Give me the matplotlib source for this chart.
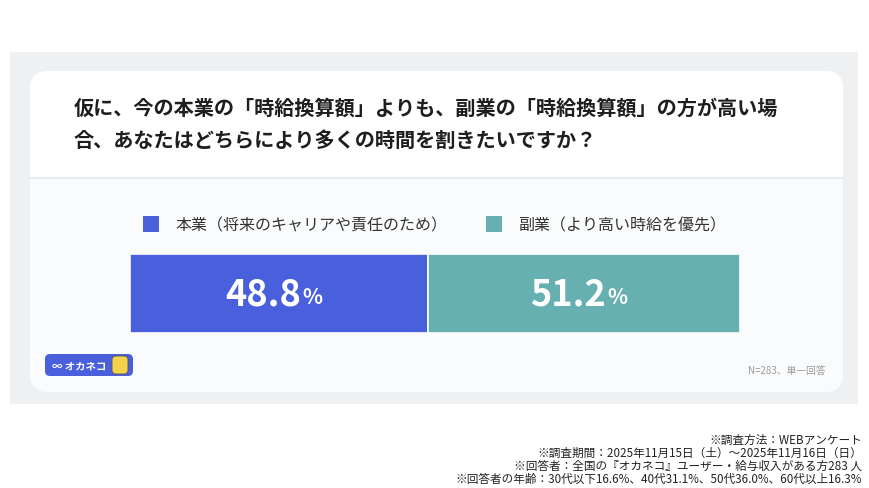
import matplotlib
matplotlib.use("Agg")
import matplotlib.pyplot as plt
from matplotlib.patches import FancyBboxPatch, Rectangle

plt.rcParams['font.family'] = ['Noto Sans CJK JP', 'DejaVu Sans']

title_lines = ["仮に、今の本業の「時給換算額」よりも、副業の「時給換算額」の方が高い場",
               "合、あなたはどちらにより多くの時間を割きたいですか？"]
categories = ["本業（将来のキャリアや責任のため）", "副業（より高い時給を優先）"]
shares = [48.8, 51.2]
colors = ["#4a5fdb", "#66b0b1"]
sample_note = "N=283、単一回答"
footnotes = ["※調査方法：WEBアンケート",
             "※調査期間：2025年11月15日（土）～2025年11月16日（日）",
             "※回答者：全国の『オカネコ』ユーザー・給与収入がある方283 人",
             "※回答者の年齢：30代以下16.6%、40代31.1%、50代36.0%、60代以上16.3%"]

W, H = 870, 489
fig = plt.figure(figsize=(W / 100, H / 100), dpi=100)
fig.patch.set_facecolor("white")

# background layer in pixel coordinates
bg = fig.add_axes([0, 0, 1, 1])
bg.set_xlim(0, W)
bg.set_ylim(H, 0)
bg.axis("off")

bg.add_patch(Rectangle((10, 53), 848, 352, facecolor="#eef0f2", edgecolor="none"))
bg.add_patch(FancyBboxPatch((30, 72), 813, 321, boxstyle="round,pad=0,rounding_size=18",
                            facecolor="#fafbfc", edgecolor="none"))
bg.add_patch(FancyBboxPatch((30, 72), 813, 106, boxstyle="round,pad=0,rounding_size=18",
                            facecolor="white", edgecolor="none"))
bg.add_patch(Rectangle((30, 150), 813, 28, facecolor="white", edgecolor="none"))
bg.plot([30, 843], [178.5, 178.5], color="#e8eaed", lw=1.5)

for i, line in enumerate(title_lines):
    bg.text(74, 108 + i * 32, line, fontsize=14.5, fontweight="bold", color="#1e1e1e",
            va="center", ha="left")

# legend
leg_x = [143, 486]
for x, lab, c in zip(leg_x, categories, colors):
    bg.add_patch(Rectangle((x, 217), 16, 16, facecolor=c, edgecolor="none"))
    bg.text(x + 32, 225.5, lab, fontsize=11.5, color="#333333", va="center", ha="left")

# logo
bg.add_patch(FancyBboxPatch((45, 355), 88, 22, boxstyle="round,pad=0,rounding_size=5",
                            facecolor="#4a5fdb", edgecolor="none"))
bg.text(52, 366, "∞ オカネコ", fontsize=7.5, fontweight="bold", color="white",
        va="center", ha="left")
bg.add_patch(FancyBboxPatch((112, 357), 16, 18, boxstyle="round,pad=0,rounding_size=4",
                            facecolor="#f2d24b", edgecolor="#555555", lw=0.6))

bg.text(826, 371, sample_note, fontsize=7, color="#9a9a9a", va="center", ha="right")

for i, t in enumerate(footnotes):
    bg.text(862, 440 + i * 13.2, t, fontsize=8.4, color="#222222", va="center", ha="right")

# stacked bar
ax = fig.add_axes([130 / W, 1 - 334 / H, 610 / W, 79 / H])
ax.set_xlim(0, 100)
ax.set_ylim(-0.5, 0.5)
ax.axis("off")
left = 0
for v, c in zip(shares, colors):
    ax.barh(0, v, left=left, height=1.0, color=c, edgecolor="white", linewidth=1.2)
    anchor = left + v / 2 + 3.6
    ax.text(anchor, 0, f"{v:.1f}", fontsize=26, fontweight="bold",
            color="white", va="center", ha="right")
    ax.text(anchor + 0.3, -0.04, "%", fontsize=15, fontweight="bold",
            color="white", va="center", ha="left")
    left += v

fig.savefig("out.png", dpi=100, facecolor=fig.get_facecolor())
